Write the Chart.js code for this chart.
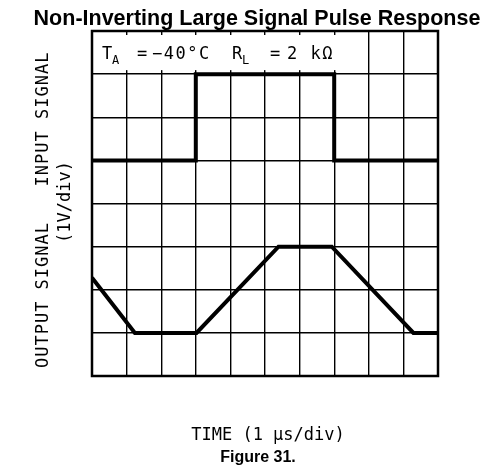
<!DOCTYPE html>
<html>
<head>
<meta charset="utf-8">
<script src="https://cdn.jsdelivr.net/npm/chart.js@4/dist/chart.umd.min.js"></script>
<style>
  html, body { margin: 0; padding: 0; background: #fff; }
  canvas { display: block; }
</style>
</head>
<body>
<canvas id="pulseChart" width="484" height="474"></canvas>
<script>
// scope divisions: 10 time divisions, 8 vertical divisions (1V/div)
var timeDivs = [0, 1, 2, 3, 4, 5, 6, 7, 8, 9, 10];
var voltDivs = [0, 1, 2, 3, 4, 5, 6, 7, 8];

// input pulse (divisions)
var inputTime = [0, 3, 3, 7, 7, 10];
var inputLevel = [5, 5, 7, 7, 5, 5];

// output response (divisions)
var outputTime = [0, 1.24, 3.02, 5.39, 6.93, 9.29, 10];
var outputLevel = [2.28, 1, 1, 3, 3, 1, 1];

var titleText = "Non-Inverting Large Signal Pulse Response";
var xLabel = "TIME (1 \u03bcs/div)";
var yLabelOuter = ["OUTPUT SIGNAL", "INPUT SIGNAL"];
var yLabelInner = "(1V/div)";
var captionText = "Figure 31.";

function toPoints(xs, ys) {
    var pts = [];
    for (var i = 0; i < xs.length; i++) {
        pts.push({x: xs[i], y: ys[i]});
    }
    return pts;
}

var mono = '"DejaVu Sans Mono", monospace';

// white box with the test conditions in the top row
var conditionsBox = {
    id: 'conditionsBox',
    beforeDatasetsDraw: function(chart) {
        var ctx = chart.ctx;
        var xs = chart.scales.x, ys = chart.scales.y;
        var x0 = xs.getPixelForValue(0) + 1;
        var x1 = xs.getPixelForValue(8) - 1;
        var y0 = ys.getPixelForValue(8) + 4;
        var y1 = ys.getPixelForValue(7) - 4;
        ctx.save();
        ctx.fillStyle = '#fff';
        ctx.fillRect(x0, y0, x1 - x0, y1 - y0);

        var left = chart.chartArea.left;
        var base = ys.getPixelForValue(7.5) + 6;
        ctx.fillStyle = '#000';
        ctx.textBaseline = 'alphabetic';
        ctx.font = '17px ' + mono;
        ctx.fillText('T', left + 10, base);
        ctx.fillText('=', left + 45, base);
        ctx.save();
        ctx.letterSpacing = '1.5px';
        ctx.fillText('\u221240\u00b0C', left + 60, base);
        ctx.restore();
        ctx.fillText('R', left + 140, base);
        ctx.fillText('=', left + 178, base);
        ctx.save();
        ctx.letterSpacing = '1.5px';
        ctx.fillText('2 k\u03a9', left + 195, base);
        ctx.restore();
        ctx.font = '12px ' + mono;
        ctx.fillText('A', left + 20, base + 5);
        ctx.fillText('L', left + 150, base + 5);
        ctx.restore();
    }
};

// frame, titles and labels around the scope grid
var scopeFrame = {
    id: 'scopeFrame',
    afterDraw: function(chart) {
        var ctx = chart.ctx;
        var a = chart.chartArea;
        ctx.save();
        ctx.strokeStyle = '#000';
        ctx.lineWidth = 2.5;
        ctx.strokeRect(a.left, a.top, a.right - a.left, a.bottom - a.top);

        ctx.fillStyle = '#000';
        ctx.textAlign = 'center';

        ctx.textBaseline = 'alphabetic';
        ctx.font = 'bold 21.5px "Liberation Sans", Arial, sans-serif';
        ctx.fillText(titleText, 257, 25);

        ctx.textBaseline = 'middle';
        ctx.font = '17px ' + mono;
        ctx.fillText(xLabel, 268, 436);

        ctx.font = 'bold 16px "Liberation Sans", Arial, sans-serif';
        ctx.fillText(captionText, 258, 458);

        ctx.font = '17px ' + mono;
        ctx.save();
        ctx.letterSpacing = '1px';
        ctx.translate(44, 0);
        ctx.rotate(-Math.PI / 2);
        ctx.fillText(yLabelOuter[0], -295, 0);
        ctx.fillText(yLabelOuter[1], -119, 0);
        ctx.restore();

        ctx.save();
        ctx.translate(66, 202);
        ctx.rotate(-Math.PI / 2);
        ctx.fillText(yLabelInner, 0, 0);
        ctx.restore();
        ctx.restore();
    }
};

var gridOpts = {
    color: '#000',
    lineWidth: 1.4,
    drawTicks: false
};

var pulseChart = new Chart(document.getElementById('pulseChart'), {
    type: 'scatter',
    data: {
        datasets: [{
            label: 'Input',
            data: toPoints(inputTime, inputLevel),
            showLine: true,
            borderColor: '#000',
            borderWidth: 4,
            pointRadius: 0,
            fill: false
        }, {
            label: 'Output',
            data: toPoints(outputTime, outputLevel),
            showLine: true,
            borderColor: '#000',
            borderWidth: 4,
            pointRadius: 0,
            fill: false
        }]
    },
    options: {
        responsive: false,
        animation: false,
        devicePixelRatio: 1,
        layout: {
            padding: {left: 92, right: 46, top: 31, bottom: 98}
        },
        plugins: {
            legend: {display: false},
            title: {display: false},
            tooltip: {enabled: false}
        },
        scales: {
            x: {
                type: 'linear',
                min: timeDivs[0],
                max: timeDivs[timeDivs.length - 1],
                afterBuildTicks: function(axis) {
                    axis.ticks = timeDivs.map(function(v) { return {value: v}; });
                },
                ticks: {display: false},
                grid: gridOpts,
                border: {display: false}
            },
            y: {
                type: 'linear',
                min: voltDivs[0],
                max: voltDivs[voltDivs.length - 1],
                afterBuildTicks: function(axis) {
                    axis.ticks = voltDivs.map(function(v) { return {value: v}; });
                },
                ticks: {display: false},
                grid: gridOpts,
                border: {display: false}
            }
        }
    },
    plugins: [conditionsBox, scopeFrame]
});
</script>
</body>
</html>
